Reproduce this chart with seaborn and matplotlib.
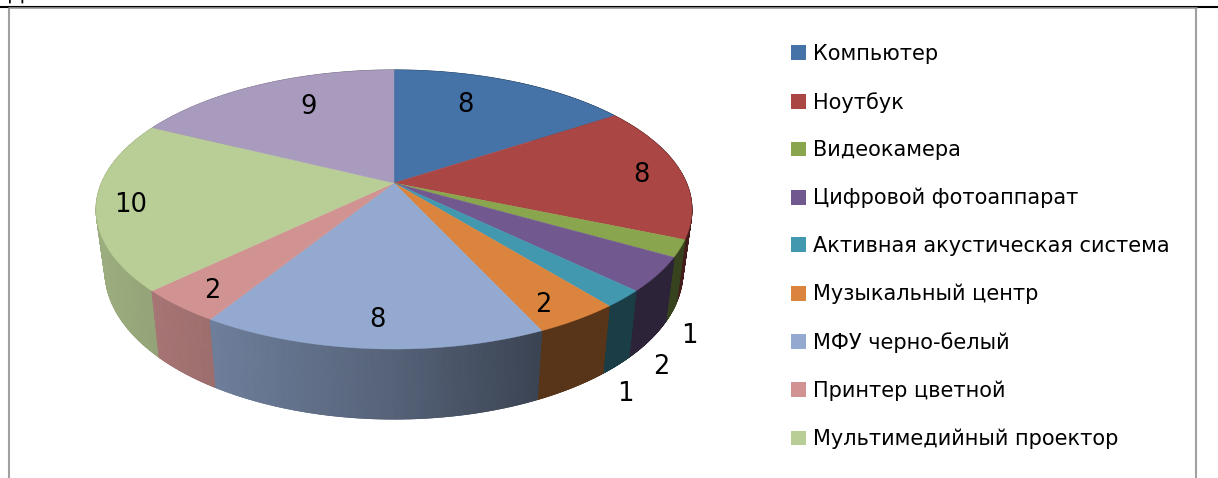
import numpy as np
import matplotlib
matplotlib.use("Agg")
import matplotlib.pyplot as plt
from matplotlib.colors import LinearSegmentedColormap
from matplotlib.patches import Patch
import seaborn as sns

values = [8, 8, 1, 2, 1, 2, 8, 2, 10, 9]
legend_labels = ["Компьютер", "Ноутбук", "Видеокамера", "Цифровой фотоаппарат",
                 "Активная акустическая система", "Музыкальный центр",
                 "МФУ черно-белый", "Принтер цветной", "Мультимедийный проектор"]
slice_colors = ["#4572a7", "#aa4643", "#89a54e", "#71588f", "#4198af",
                "#db843d", "#93a9cf", "#d19392", "#b9cd96", "#a99bbd"]
label_xy = [(465, 105), (641, 175), (689, 336), (661, 367), (625, 394),
            (543, 305), (377, 320), (212, 291), (131, 205), (309, 107)]

sns.set_theme(style="white")
plt.rcParams["font.family"] = ["DejaVu Sans"]
palette = sns.color_palette(slice_colors)

W, H = 1218, 478
fig = plt.figure(figsize=(W / 100, H / 100), dpi=100, facecolor="white")
ax = fig.add_axes([0, 0, 1, 1])
ax.set_xlim(0, W)
ax.set_ylim(H, 0)
ax.axis("off")

CX, CY = 394.0, 183.0
A, B, K = 292.5, 134.5, 0.19


def top_xy(theta):
    u, v = np.sin(theta), np.cos(theta)
    d = 1 + K * v
    return A * u / d, -B * v / d


def wall_xy(theta):
    x, y = top_xy(theta)
    return 0.97 * x, 1.06 * y + 60


def shade(x):
    return np.interp(x, [-298, -182, 0, 147, 298], [0.85, 0.75, 0.58, 0.40, 0.40])


edges = np.cumsum([0] + values) / sum(values) * 2 * np.pi

# Side wall: a smoothly shaded mesh per slice, painted back to front
order = sorted(range(len(values)), key=lambda i: -np.cos((edges[i] + edges[i + 1]) / 2))
for i in order:
    ts = np.linspace(edges[i], edges[i + 1], 120)
    xt, yt = top_xy(ts)
    xb, yb = wall_xy(ts)
    gx = np.vstack([xt, xb]) + CX
    gy = np.vstack([yt, yb]) + CY
    cmap = LinearSegmentedColormap.from_list("wall", ["black", palette[i]])
    ax.pcolormesh(gx, gy, np.vstack([shade(xt), shade(xb)]), cmap=cmap, vmin=0, vmax=1,
                  shading="gouraud", zorder=2)
    # soft lower rim, same colours as the wall
    for k in range(0, len(ts) - 1, 4):
        seg = slice(k, k + 5)
        c = tuple(np.array(palette[i]) * shade(xb[k]))
        ax.plot(xb[seg] + CX, yb[seg] + CY, color=c, lw=0.7, solid_capstyle="butt", zorder=2)

# Top face
for i, col in enumerate(palette):
    ts = np.linspace(edges[i], edges[i + 1], 80)
    x, y = top_xy(ts)
    ax.fill(np.r_[0, x] + CX, np.r_[0, y] + CY, facecolor=col, edgecolor=col, lw=0.3, zorder=3)

# Data labels
for v, (lx, ly) in zip(values, label_xy):
    ax.text(lx, ly, str(v), ha="center", va="center", fontsize=18.5, color="black",
            zorder=5)

# Legend (the tenth entry falls outside the visible crop)
handles = [Patch(facecolor=c, edgecolor="none") for c in palette[:len(legend_labels)]]
fs = 15
em = fs / 0.72
leg = ax.legend(handles, legend_labels, loc="upper left", bbox_to_anchor=(791 / W, 1 - 44 / H),
                bbox_transform=fig.transFigure, frameon=False, fontsize=fs, labelcolor="black",
                handlelength=15 / em, handleheight=15 / em,
                handletextpad=7 / em, labelspacing=1.33, borderpad=0, borderaxespad=0)

# Document frame around the pasted picture
ax.plot([0, W], [6.6, 6.6], color="black", lw=1.5, zorder=6)
ax.plot([8.5, 1196.5], [8.3, 8.3], color="#9a9a9a", lw=1.2, zorder=7)
ax.plot([9.3, 9.3], [8, H], color="#a0a0a0", lw=1.5, zorder=5)
ax.plot([1195.7, 1195.7], [8, H], color="#a0a0a0", lw=1.5, zorder=5)
ax.text(16.5, 0, "Д", ha="center", va="baseline", fontsize=15, color="black")

sns.despine(ax=ax, left=True, bottom=True)
fig.savefig("out.png", dpi=100, facecolor="white")
